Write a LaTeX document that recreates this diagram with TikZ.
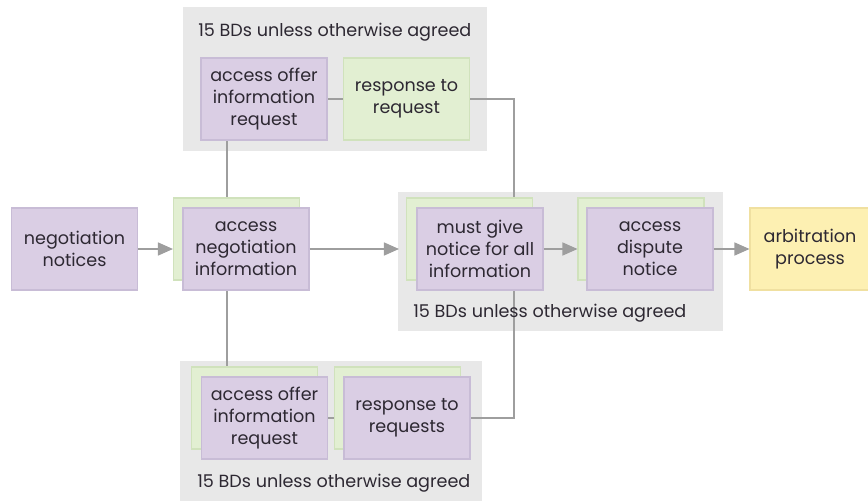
\documentclass[tikz,border=0pt]{standalone}
\usepackage{fontspec}
\setmainfont{Poppins}
\usetikzlibrary{arrows.meta,backgrounds}
\definecolor{boxpurple}{RGB}{218,206,228}
\definecolor{edgepurple}{RGB}{200,188,214}
\definecolor{boxgreen}{RGB}{226,239,210}
\definecolor{edgegreen}{RGB}{208,226,188}
\definecolor{boxyellow}{RGB}{253,240,178}
\definecolor{edgeyellow}{RGB}{240,224,160}
\definecolor{groupgray}{RGB}{232,232,232}
\definecolor{linegray}{RGB}{158,158,158}
\definecolor{textgray}{RGB}{45,40,50}
\begin{document}
\begin{tikzpicture}[
    font=\fontsize{10}{12.6}\selectfont, text=textgray,
    box/.style={draw,line width=0.6pt,minimum width=2.52cm,minimum height=1.64cm,align=center,inner sep=1pt},
    pbox/.style={box,fill=boxpurple,draw=edgepurple},
    gbox/.style={box,fill=boxgreen,draw=edgegreen},
    ybox/.style={box,fill=boxyellow,draw=edgeyellow,minimum width=2.4cm},
    group/.style={fill=groupgray},
    link/.style={draw=linegray,line width=0.8pt},
    flow/.style={link,-{Triangle[length=3mm,width=2.6mm]}}
]
    \useasboundingbox (0,0) rectangle (17.36,-10.02);
    %% Boxes
    \node[pbox] (notices) at (1.49,-4.98) {negotiation\\notices};
    \node[gbox] (negBack) at (4.73,-4.78) {};
    \node[pbox] (negInfo) at (4.92,-4.98) {access\\negotiation\\information};
    \node[pbox] (topReq) at (5.28,-1.98) {access offer\\information\\request};
    \node[gbox] (topResp) at (8.13,-1.98) {response to\\request};
    \node[gbox] (mustBack) at (9.39,-4.78) {};
    \node[pbox] (mustGive) at (9.60,-4.98) {must give\\notice for all\\information};
    \node[gbox] (dispBack) at (12.82,-4.78) {};
    \node[pbox] (dispute) at (13.00,-4.98) {access\\dispute\\notice};
    \node[ybox] (arb) at (16.20,-4.98) {arbitration\\process};
    \node[gbox] (botReqBack) at (5.09,-8.16) {};
    \node[pbox] (botReq) at (5.29,-8.36) {access offer\\information\\request};
    \node[gbox] (botRespBack) at (7.95,-8.16) {};
    \node[pbox] (botResp) at (8.14,-8.36) {response to\\requests};
    %% Group titles
    \node[anchor=west,inner sep=0pt] (topTitle) at (3.96,-0.64) {15 BDs unless otherwise agreed};
    \node[anchor=west,inner sep=0pt] (midTitle) at (8.26,-6.26) {15 BDs unless otherwise agreed};
    \node[anchor=west,inner sep=0pt] (botTitle) at (3.94,-9.66) {15 BDs unless otherwise agreed};
    %% Riser
    \coordinate (riser) at (10.28,-4.98);
    \begin{pgfonlayer}{background}
        %% Groups
        \fill[group] (3.66,-0.14) rectangle (9.74,-3.02);
        \fill[group] (7.96,-3.84) rectangle (14.46,-6.62);
        \fill[group] (3.60,-7.22) rectangle (9.64,-10.02);
        %% Lines behind the boxes
        \draw[link] (topReq) -- (topResp);
        \draw[link] (topResp) -| (riser);
        \draw[link] (botResp) -| (riser);
        \draw[link] ([xshift=-7.4mm]topReq.center) -- ([xshift=-7.4mm]topReq.center |- botReq.center);
        \draw[link] (botReq) -- (botResp);
    \end{pgfonlayer}
    %% Arrows
    \draw[flow] (notices) -- (negBack.west |- notices);
    \draw[flow] (negInfo) -- ([xshift=-1.4mm]mustBack.west |- negInfo);
    \draw[flow] (mustGive) -- (dispBack.west |- mustGive);
    \draw[flow] (dispute) -- (arb);
\end{tikzpicture}
\end{document}
